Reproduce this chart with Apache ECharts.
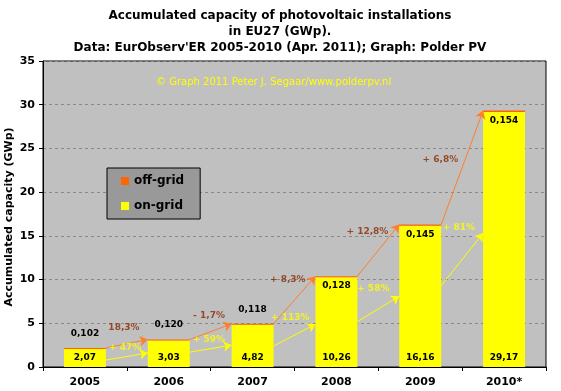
<!DOCTYPE html>
<html>
<head>
<meta charset="utf-8">
<script src="https://cdn.jsdelivr.net/npm/echarts@6/dist/echarts.min.js"></script>
<style>
html,body{margin:0;padding:0;background:#fff;}
#c{width:561px;height:391px;}
</style>
</head>
<body>
<div id="c"></div>
<script>
// ---- data ----
const years = ['2005', '2006', '2007', '2008', '2009', '2010*'];
const onGrid = [2.07, 3.03, 4.82, 10.26, 16.16, 29.17];
const offGrid = [0.102, 0.120, 0.118, 0.128, 0.145, 0.154];
const onGridLabels = ['2,07', '3,03', '4,82', '10,26', '16,16', '29,17'];
const offGridLabels = ['0,102', '0,120', '0,118', '0,128', '0,145', '0,154'];
const offGridGrowth = ['18,3%', '- 1,7%', '+ 8,3%', '+ 12,8%', '+ 6,8%'];
const onGridGrowth = ['+ 47%', '+ 59%', '+ 113%', '+ 58%', '+ 81%'];
// yellow arrow endpoints (GWp)
const onArrowStart = [0.8, 1.7, 2.4, 5.2, 9.3];
const onArrowEnd = [1.6, 2.5, 4.9, 8.1, 15.3];
const yTicks = [0, 5, 10, 15, 20, 25, 30, 35];
const yAxisTitle = 'Accumulated capacity (GWp)';

// ---- annotation layout (axis units) ----
const offLabelPos = [[0.966, 4.46], [1.98, 5.83], [2.92, 9.95], [3.87, 15.44], [4.74, 23.68]];
const onLabelPos = [[0.98, 2.17], [1.98, 3.09], [2.95, 5.6], [3.94, 8.92], [4.96, 15.9]];

const F = 'DejaVu Sans';
const totals = onGrid.map((v, i) => v + offGrid[i]);

const offArrows = [];
const onArrows = [];
for (let i = 0; i < years.length - 1; i++) {
  offArrows.push({coords: [[i + 0.75, totals[i]], [i + 1.25, totals[i + 1]]]});
  onArrows.push({coords: [[i + 0.75, onArrowStart[i]], [i + 1.25, onArrowEnd[i]]]});
}

const chart = echarts.init(document.getElementById('c'), null, {renderer: 'canvas'});
const option = {
  animation: false,
  backgroundColor: '#ffffff',
  title: {
    text: 'Accumulated capacity of photovoltaic installations\nin EU27 (GWp).\nData: EurObserv\'ER 2005-2010 (Apr. 2011); Graph: Polder PV',
    left: 275, textAlign: 'center', top: 3,
    textStyle: {fontFamily: F, fontWeight: 'bold', fontSize: 12, lineHeight: 16, color: '#000'}
  },
  legend: {
    orient: 'vertical', left: 107, top: 168,
    backgroundColor: '#999999', borderColor: '#000', borderWidth: 1,
    padding: [7, 16, 7, 14], itemGap: 13, itemWidth: 8, itemHeight: 8,
    icon: 'rect',
    data: ['off-grid', 'on-grid'],
    textStyle: {fontFamily: F, fontWeight: 'bold', fontSize: 12, color: '#000', textBorderWidth: 0}
  },
  graphic: [{
    type: 'text', left: 156, top: 77, z: 1,
    style: {text: '\u00a9 Graph 2011 Peter J. Segaar/www.polderpv.nl', fill: '#ffff00',
      font: '10px "DejaVu Sans"'}
  }, {
    type: 'text', x: 9, y: 217, rotation: Math.PI / 2, z: 10,
    style: {text: yAxisTitle, fill: '#000', font: 'bold 11px "DejaVu Sans"',
      align: 'center', verticalAlign: 'middle'}
  }],
  grid: {
    left: 43, right: 15, top: 61, bottom: 24, outerBoundsMode: 'none', containLabel: false,
    show: true, backgroundColor: '#c0c0c0', borderColor: '#000', borderWidth: 1
  },
  xAxis: [{
    type: 'category', data: years,
    axisLine: {lineStyle: {color: '#000', width: 1}},
    axisTick: {show: true, length: 4, lineStyle: {color: '#000'}},
    axisLabel: {fontFamily: F, fontWeight: 'bold', fontSize: 11, color: '#000', margin: 10}
  }, {
    type: 'value', min: 0, max: 6, show: false
  }],
  yAxis: {
    type: 'value', min: 0, max: 35, interval: 5,
    axisLine: {show: true, lineStyle: {color: '#000'}},
    axisTick: {show: true, length: 4, lineStyle: {color: '#000'}},
    axisLabel: {fontFamily: F, fontWeight: 'bold', fontSize: 11, color: '#000', margin: 8,
      formatter: v => yTicks.includes(v) ? String(v) : ''},
    splitLine: {show: true, lineStyle: {color: '#888888', type: [3, 3], width: 1}}
  },
  series: [{
    name: 'on-grid', type: 'bar', stack: 'a', barWidth: '50%',
    itemStyle: {color: '#ffff00'},
    data: onGrid,
    label: {show: true, position: 'insideBottom', distance: 5,
      formatter: p => onGridLabels[p.dataIndex], textBorderWidth: 0,
      fontFamily: F, fontWeight: 'bold', fontSize: 9, color: '#000'}
  }, {
    name: 'off-grid', type: 'bar', stack: 'a', barWidth: '50%',
    itemStyle: {color: '#ff6600'},
    data: offGrid.map((v, i) => ({
      value: v,
      label: i < 3 ? {position: 'top', distance: 10} : {position: 'bottom', distance: 4}
    })),
    label: {show: true, textBorderWidth: 0,
      formatter: p => offGridLabels[p.dataIndex],
      fontFamily: F, fontWeight: 'bold', fontSize: 9, color: '#000'}
  }, {
    type: 'lines', coordinateSystem: 'cartesian2d', xAxisIndex: 1, yAxisIndex: 0,
    symbol: ['none', 'arrow'], symbolSize: 8, z: 5,
    lineStyle: {color: '#ff7f2a', width: 1, opacity: 1},
    data: offArrows
  }, {
    type: 'lines', coordinateSystem: 'cartesian2d', xAxisIndex: 1, yAxisIndex: 0,
    symbol: ['none', 'arrow'], symbolSize: 8, z: 5,
    lineStyle: {color: '#ffff00', width: 1, opacity: 1},
    data: onArrows
  }, {
    type: 'scatter', xAxisIndex: 1, yAxisIndex: 0, symbolSize: 0, z: 6,
    data: offLabelPos,
    label: {show: true, position: 'inside', formatter: p => offGridGrowth[p.dataIndex],
      textBorderWidth: 0,
      fontFamily: F, fontWeight: 'bold', fontSize: 9, color: '#8b2a00'}
  }, {
    type: 'scatter', xAxisIndex: 1, yAxisIndex: 0, symbolSize: 0, z: 6,
    data: onLabelPos,
    label: {show: true, position: 'inside', formatter: p => onGridGrowth[p.dataIndex],
      textBorderWidth: 0,
      fontFamily: F, fontWeight: 'bold', fontSize: 9, color: '#ffff00'}
  }]
};
chart.setOption(option);
</script>
</body>
</html>
